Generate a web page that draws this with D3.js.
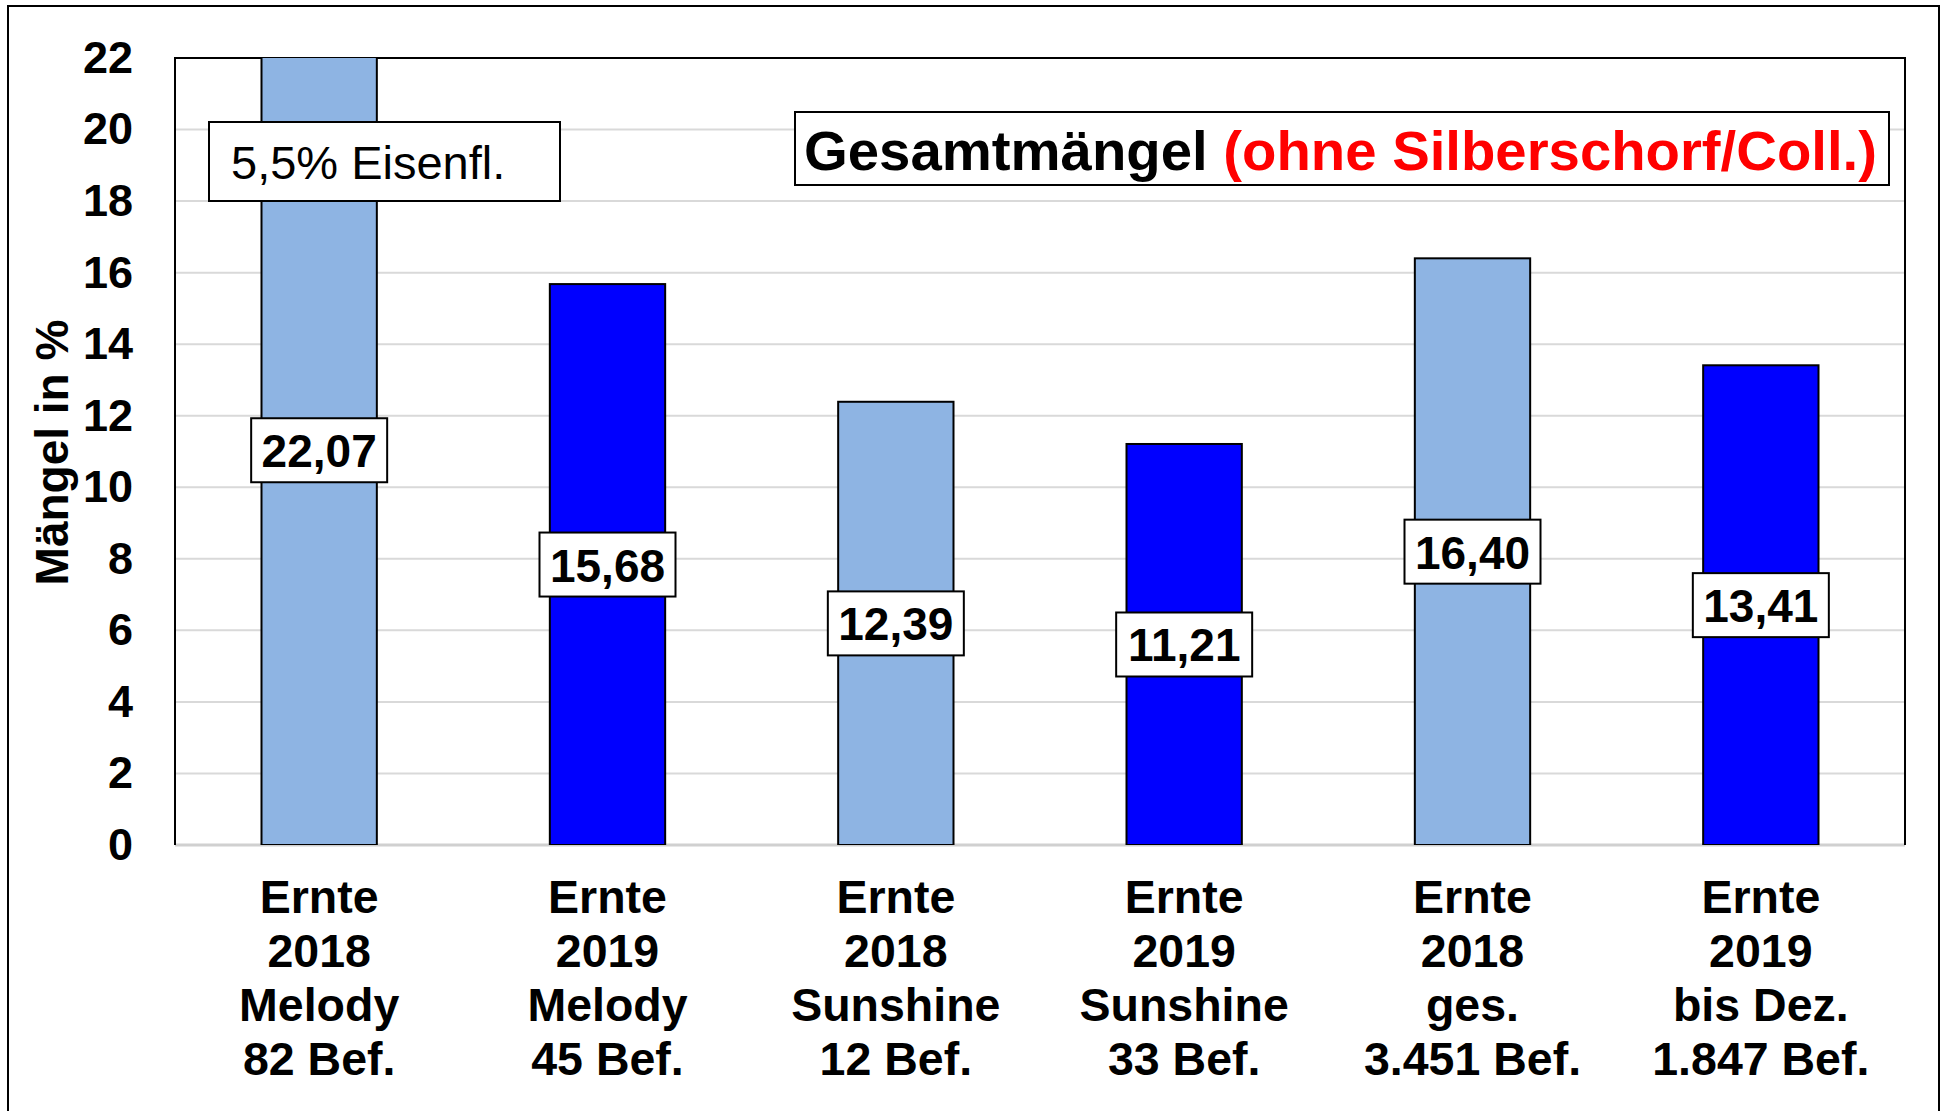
<!DOCTYPE html>
<html>
<head>
<meta charset="utf-8">
<script src="https://cdn.jsdelivr.net/npm/d3@7"></script>
<style>
  body { margin: 0; background: #fff; }
  svg { display: block; font-family: "Liberation Sans", Arial, sans-serif; }
</style>
</head>
<body>
<svg id="chart" width="1946" height="1111"></svg>
<script>
// --- Daten ---
const categories = [
  ["Ernte", "2018", "Melody", "82 Bef."],
  ["Ernte", "2019", "Melody", "45 Bef."],
  ["Ernte", "2018", "Sunshine", "12 Bef."],
  ["Ernte", "2019", "Sunshine", "33 Bef."],
  ["Ernte", "2018", "ges.", "3.451 Bef."],
  ["Ernte", "2019", "bis Dez.", "1.847 Bef."]
];
const values = [22.07, 15.68, 12.39, 11.21, 16.40, 13.41];
const years = ["2018", "2019", "2018", "2019", "2018", "2019"];
const yTicks = [0, 2, 4, 6, 8, 10, 12, 14, 16, 18, 20, 22];
const yTitle = "Mängel in %";
const titleMain = "Gesamtmängel ";
const titleRed = "(ohne Silberschorf/Coll.)";
const noteText = "5,5% Eisenfl.";

const colorByYear = { "2018": "#8EB4E3", "2019": "#0000FF" };

// --- Layout ---
const plot = { left: 175, top: 58, right: 1905, bottom: 845 };

const svg = d3.select("#chart");

// äußerer Rahmen
svg.append("rect")
  .attr("x", 8).attr("y", 6)
  .attr("width", 1931).attr("height", 1120)
  .attr("fill", "none").attr("stroke", "#000").attr("stroke-width", 2);

const x = d3.scaleBand()
  .domain(d3.range(values.length))
  .range([plot.left, plot.right])
  .paddingInner(0.6)
  .paddingOuter(0.3);

const y = d3.scaleLinear()
  .domain([0, 22])
  .range([plot.bottom, plot.top]);

// Gitterlinien
svg.append("g")
  .selectAll("line")
  .data(yTicks.filter(d => d > 0 && d < 22))
  .join("line")
  .attr("x1", plot.left).attr("x2", plot.right)
  .attr("y1", d => y(d)).attr("y2", d => y(d))
  .attr("stroke", "#d9d9d9").attr("stroke-width", 2);

// Nulllinie (grau)
svg.append("line")
  .attr("x1", plot.left).attr("x2", plot.right)
  .attr("y1", y(0)).attr("y2", y(0))
  .attr("stroke", "#d0d0d0").attr("stroke-width", 3);

// Rahmen des Plotbereichs (links, oben, rechts)
svg.append("path")
  .attr("d", `M${plot.left},${plot.bottom}V${plot.top}H${plot.right}V${plot.bottom}`)
  .attr("fill", "none").attr("stroke", "#000").attr("stroke-width", 2);

// Balken (an 22 abgeschnitten)
svg.append("defs").append("clipPath").attr("id", "plotClip")
  .append("rect")
  .attr("x", plot.left).attr("y", plot.top)
  .attr("width", plot.right - plot.left).attr("height", plot.bottom - plot.top);

svg.append("g")
  .attr("clip-path", "url(#plotClip)")
  .selectAll("rect")
  .data(values)
  .join("rect")
  .attr("x", (d, i) => x(i))
  .attr("y", d => y(d))
  .attr("width", x.bandwidth())
  .attr("height", d => y(0) - y(d))
  .attr("fill", (d, i) => colorByYear[years[i]])
  .attr("stroke", "#000").attr("stroke-width", 2);

// y-Achse
const yAxis = svg.append("g")
  .attr("transform", `translate(${plot.left - 42},0)`)
  .call(d3.axisLeft(y).tickValues(yTicks).tickSize(0).tickPadding(0));
yAxis.select(".domain").remove();
yAxis.selectAll("text")
  .attr("font-size", 45).attr("font-weight", "bold").attr("fill", "#000")
  .attr("font-family", "Liberation Sans, Arial, sans-serif");

// y-Achsentitel
svg.append("text")
  .attr("transform", `translate(52,${(plot.top + plot.bottom) / 2 + 1}) rotate(-90)`)
  .attr("text-anchor", "middle")
  .attr("dominant-baseline", "central")
  .attr("font-size", 46).attr("font-weight", "bold")
  .text(yTitle);

// x-Achsenbeschriftung (4 Zeilen)
const catGroup = svg.append("g")
  .selectAll("text")
  .data(categories)
  .join("text")
  .attr("text-anchor", "middle")
  .attr("font-size", 46.5).attr("font-weight", "bold");
catGroup.selectAll("tspan")
  .data((d, i) => d.map(line => ({ line, i })))
  .join("tspan")
  .attr("x", d => x(d.i) + x.bandwidth() / 2)
  .attr("y", (d, j) => 913 + j * 54)
  .text(d => d.line);

// Wertelabels in Kästchen, mittig im Balken
const fmt = v => v.toFixed(2).replace(".", ",");
const labels = svg.append("g")
  .selectAll("g")
  .data(values)
  .join("g")
  .attr("transform", (d, i) => `translate(${x(i) + x.bandwidth() / 2},${y(d / 2)})`);
labels.append("rect")
  .attr("x", -68).attr("y", -32)
  .attr("width", 136).attr("height", 64)
  .attr("fill", "#fff").attr("stroke", "#000").attr("stroke-width", 2);
labels.append("text")
  .attr("text-anchor", "middle")
  .attr("dominant-baseline", "central")
  .attr("y", 1)
  .attr("font-size", 46).attr("font-weight", "bold")
  .text(d => fmt(d));

// Hinweis-Kasten "5,5% Eisenfl."
svg.append("rect")
  .attr("x", 209).attr("y", 122)
  .attr("width", 351).attr("height", 79)
  .attr("fill", "#fff").attr("stroke", "#000").attr("stroke-width", 2);
svg.append("text")
  .attr("x", 231).attr("y", 162)
  .attr("dominant-baseline", "central")
  .attr("font-size", 47)
  .text(noteText);

// Titel-Kasten
svg.append("rect")
  .attr("x", 795).attr("y", 112)
  .attr("width", 1094).attr("height", 73)
  .attr("fill", "#fff").attr("stroke", "#000").attr("stroke-width", 2);
const title = svg.append("text")
  .attr("x", 804).attr("y", 150)
  .attr("dominant-baseline", "central")
  .attr("font-size", 56.3).attr("font-weight", "bold");
title.append("tspan").attr("fill", "#000").text(titleMain);
title.append("tspan").attr("fill", "#FF0000").text(titleRed);
</script>
</body>
</html>
